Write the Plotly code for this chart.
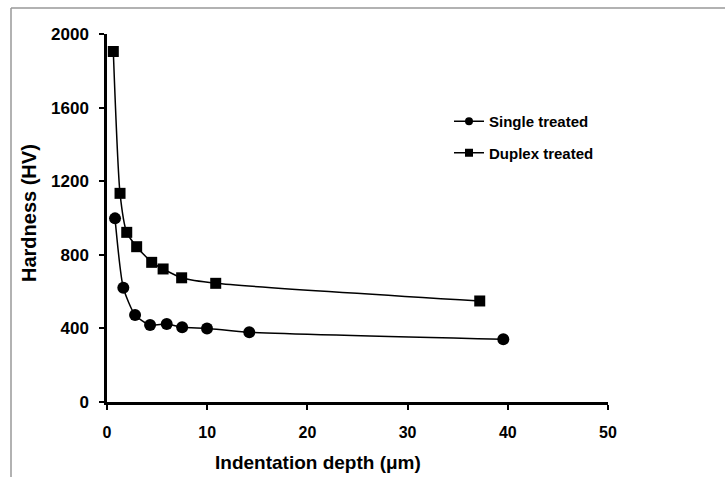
import plotly.graph_objects as go

single_x = [0.8, 1.63, 2.8, 4.3, 5.96, 7.5, 9.98, 14.2, 39.55]
single_y = [998, 621, 473, 418, 424, 406, 400, 379, 341]
duplex_x = [0.63, 1.3, 1.97, 2.96, 4.46, 5.6, 7.45, 10.85, 37.2]
duplex_y = [1905, 1134, 922, 844, 759, 723, 675, 645, 549]

x_ticks = [0, 10, 20, 30, 40, 50]
y_ticks = [0, 400, 800, 1200, 1600, 2000]

W, H = 727, 477
L, R, T, B = 107, 608, 34, 402
FAM = "Liberation Sans, Arial, sans-serif"

fig = go.Figure()
line_style = dict(color="black", width=1.5, shape="spline", smoothing=0.6)
fig.add_trace(go.Scatter(x=single_x, y=single_y, mode="lines+markers", name="Single treated",
                         showlegend=False, line=line_style,
                         marker=dict(symbol="circle", size=12, color="black")))
fig.add_trace(go.Scatter(x=duplex_x, y=duplex_y, mode="lines+markers", name="Duplex treated",
                         showlegend=False, line=line_style,
                         marker=dict(symbol="square", size=11, color="black")))
# legend entries (smaller symbols, as in the reference legend)
fig.add_trace(go.Scatter(x=[None], y=[None], mode="lines+markers", name="Single treated",
                         legendgroup="a", line=dict(color="black", width=1.5),
                         marker=dict(symbol="circle", size=8, color="black")))
fig.add_trace(go.Scatter(x=[None], y=[None], mode="lines+markers", name="Duplex treated",
                         legendgroup="b", line=dict(color="black", width=1.5),
                         marker=dict(symbol="square", size=8, color="black")))

def px_x(p):
    return (p - L) / (R - L)

def px_y(p):
    return (B - p) / (B - T)

xfnt = dict(family=FAM, size=16, color="black", weight="bold")
yfnt = dict(family=FAM, size=17, color="black", weight="bold")

fig.update_layout(
    width=W, height=H,
    margin=dict(l=L, r=W - R, t=T, b=H - B),
    paper_bgcolor="white", plot_bgcolor="white",
    font=dict(family=FAM, color="black"),
    showlegend=True,
    legend=dict(x=px_x(449), y=px_y(105), xanchor="left", yanchor="top",
                traceorder="grouped", tracegroupgap=9,
                font=dict(family=FAM, size=15, color="black", weight="bold"),
                bgcolor="rgba(0,0,0,0)", itemwidth=30),
    xaxis=dict(range=[0, 50], tickvals=x_ticks, showgrid=False, zeroline=False,
               showline=True, linecolor="black", linewidth=2.5,
               ticks="outside", ticklen=5, tickwidth=2, tickcolor="black",
               tickfont=xfnt, ticklabelstandoff=9, fixedrange=True),
    yaxis=dict(range=[0, 2000], tickvals=y_ticks, showgrid=False, zeroline=False,
               showline=True, linecolor="black", linewidth=2.5,
               ticks="outside", ticklen=5, tickwidth=2, tickcolor="black",
               tickfont=yfnt, ticklabelstandoff=7, fixedrange=True),
    annotations=[
        dict(text="Indentation depth (μm)", xref="paper", yref="paper",
             x=px_x(318), y=px_y(462), xanchor="center", yanchor="middle",
             showarrow=False, font=dict(family=FAM, size=19, color="black", weight="bold")),
        dict(text="Hardness (HV)", xref="paper", yref="paper", textangle=-90,
             x=px_x(29), y=px_y(213), xanchor="center", yanchor="middle",
             showarrow=False, font=dict(family=FAM, size=20, color="black", weight="bold")),
    ],
    shapes=[
        dict(type="line", xref="paper", yref="paper", x0=px_x(11), x1=px_x(725), y0=px_y(8), y1=px_y(8),
             line=dict(color="#999999", width=1.5)),
        dict(type="line", xref="paper", yref="paper", x0=px_x(11), x1=px_x(11), y0=px_y(8), y1=px_y(477),
             line=dict(color="#999999", width=1.5)),
    ],
)

fig.write_html("out.html")
